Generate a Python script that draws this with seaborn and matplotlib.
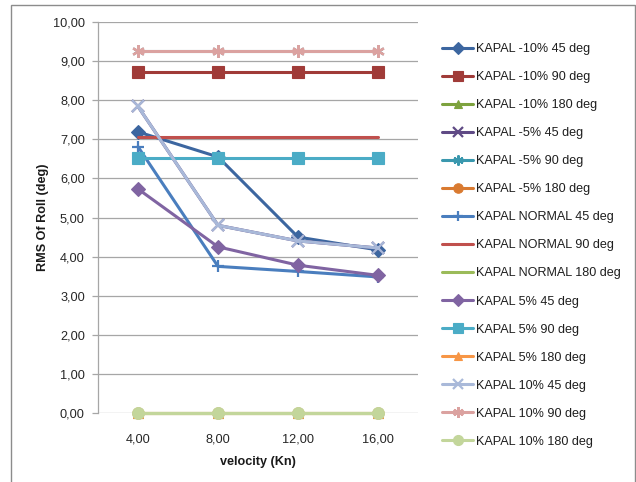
import matplotlib
matplotlib.use("Agg")
import matplotlib.pyplot as plt
import seaborn as sns
import pandas as pd
from matplotlib.patches import Rectangle
from matplotlib.ticker import FuncFormatter

# velocity categories (knots)
velocity = ["4,00", "8,00", "12,00", "16,00"]

# RMS of roll (deg) for each hull variant / heading
min10_45 = [7.19, 6.55, 4.50, 4.17]
min10_90 = [8.72, 8.72, 8.72, 8.72]
min10_180 = [0.0, 0.0, 0.0, 0.0]
min5_45 = [7.84, 4.80, 4.40, 4.22]
min5_90 = [9.26, 9.26, 9.26, 9.26]
min5_180 = [0.0, 0.0, 0.0, 0.0]
normal_45 = [6.81, 3.75, 3.62, 3.48]
normal_90 = [7.06, 7.06, 7.06, 7.06]
normal_180 = [0.0, 0.0, 0.0, 0.0]
plus5_45 = [5.73, 4.25, 3.78, 3.52]
plus5_90 = [6.53, 6.53, 6.53, 6.53]
plus5_180 = [0.0, 0.0, 0.0, 0.0]
plus10_45 = [7.84, 4.80, 4.40, 4.22]
plus10_90 = [9.26, 9.26, 9.26, 9.26]
plus10_180 = [0.0, 0.0, 0.0, 0.0]

series_names = [
    "KAPAL -10% 45 deg", "KAPAL -10% 90 deg", "KAPAL -10% 180 deg",
    "KAPAL -5% 45 deg", "KAPAL -5% 90 deg", "KAPAL -5% 180 deg",
    "KAPAL NORMAL 45 deg", "KAPAL NORMAL 90 deg", "KAPAL NORMAL 180 deg",
    "KAPAL 5% 45 deg", "KAPAL 5% 90 deg", "KAPAL 5% 180 deg",
    "KAPAL 10% 45 deg", "KAPAL 10% 90 deg", "KAPAL 10% 180 deg",
]
series_values = [
    min10_45, min10_90, min10_180,
    min5_45, min5_90, min5_180,
    normal_45, normal_90, normal_180,
    plus5_45, plus5_90, plus5_180,
    plus10_45, plus10_90, plus10_180,
]

asterisk = (6, 2, 0)
styles = [
    ("#3C66A0", "D", 7.5),
    ("#A03B38", "s", 8.5),
    ("#7DA23E", "^", 7.5),
    ("#5F4A85", "x", 8.0),
    ("#3A98AE", asterisk, 8.5),
    ("#D97A30", "o", 8.0),
    ("#4A7EBE", "+", 9.0),
    ("#C0504D", None, 0),
    ("#9BBB59", None, 0),
    ("#8064A2", "D", 7.5),
    ("#4BACC6", "s", 8.5),
    ("#F79646", "^", 7.5),
    ("#A9B9D9", "x", 9.0),
    ("#DBA2A0", asterisk, 9.0),
    ("#C3D69B", "o", 8.5),
]

frames = []
for name, vals in zip(series_names, series_values):
    frames.append(pd.DataFrame({"velocity": velocity, "rms": vals, "series": name}))
df = pd.concat(frames, ignore_index=True)

sns.set_theme(style="white")
plt.rcParams["font.family"] = ["Liberation Sans", "DejaVu Sans"]

fig = plt.figure(figsize=(6.36, 4.82), dpi=100)
ax = fig.add_axes([98 / 636, 1 - 413 / 482, 320 / 636, (413 - 22) / 482])

for i, (name, (color, marker, ms)) in enumerate(zip(series_names, styles)):
    sub = df[df["series"] == name]
    kw = dict(color=color, linewidth=2.2, zorder=3 + i * 0.01, clip_on=False)
    if marker is not None:
        kw.update(marker=marker, markersize=ms, markeredgecolor=color,
                  markerfacecolor=color,
                  markeredgewidth=1.6 if marker in ("x", "+", asterisk) else 0.8)
    sns.lineplot(data=sub, x="velocity", y="rms", ax=ax, sort=False,
                 label=name, legend=False, **kw)

ax.set_xlim(-0.5, 3.5)
ax.set_ylim(0, 10)
ax.set_yticks([0, 1, 2, 3, 4, 5, 6, 7, 8, 9, 10])
ax.yaxis.set_major_formatter(FuncFormatter(lambda v, p: f"{v:.2f}".replace(".", ",")))
ax.yaxis.grid(True, color="#A6A6A6", linewidth=0.9, zorder=0)
ax.set_axisbelow(True)
for s in ("top", "right", "bottom"):
    ax.spines[s].set_visible(False)
ax.spines["left"].set_color("#A6A6A6")
ax.spines["left"].set_linewidth(0.9)
ax.tick_params(axis="y", which="major", left=True, length=4, width=0.9,
               color="#A6A6A6", labelsize=9.2, labelcolor="#262626", pad=5.5)
ax.tick_params(axis="x", bottom=False, labelsize=9.2, labelcolor="#262626", pad=9)

ax.set_xlabel("velocity (Kn)", fontsize=9.1, fontweight="bold", color="#1a1a1a", labelpad=7)
ax.set_ylabel("RMS Of Roll (deg)", fontsize=9.1, fontweight="bold", color="#1a1a1a", labelpad=3)

handles, labels = ax.get_legend_handles_labels()
fig.legend(handles, labels, loc="upper left", bbox_to_anchor=(437 / 636, 1 - 38 / 482),
           frameon=False, fontsize=9.1, handlelength=2.45, handletextpad=0.25,
           labelspacing=1.27, borderaxespad=0, markerscale=0.85, labelcolor="#1f1f1f")

fig.patches.append(Rectangle((11 / 636, -0.05), 624 / 636, 1.05 - 4.5 / 482,
                             transform=fig.transFigure, fill=False,
                             edgecolor="#8C8C8C", linewidth=1.0))

fig.savefig("out.png", dpi=100, facecolor="white")
